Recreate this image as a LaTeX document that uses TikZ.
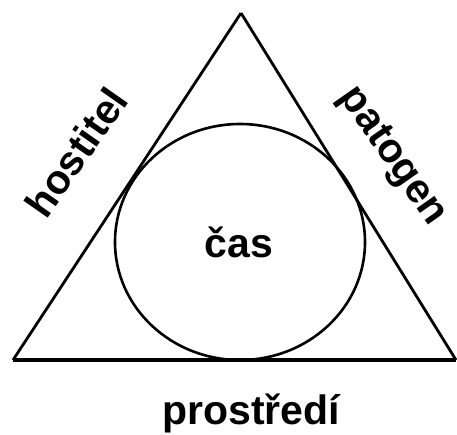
\documentclass[tikz,border=0pt]{standalone}
\usepackage{fontspec}
\setmainfont{Liberation Sans}
\usetikzlibrary{shapes.geometric}
\begin{document}
\begin{tikzpicture}[x=1pt,y=-1pt,
  lbl/.style={font=\fontsize{41}{42}\selectfont\bfseries, inner sep=0pt},
  edge/.style={line width=2.8pt, line join=round}]
\useasboundingbox (0,0) rectangle (457,434);
\coordinate (A) at (241,13);
\coordinate (B) at (13,360);
\coordinate (C) at (456,360);
\draw[edge] (A) -- (B);
\draw[edge] (A) -- (C);
\draw[line width=4pt] (B) -- (C);
\node[draw, line width=2.6pt, ellipse, minimum width=250pt, minimum height=236pt, inner sep=0pt] (circ) at (240,242) {};
\node[lbl] (cas) at (239,242) {čas};
\node[lbl, rotate=55] (host) at (76,152) {hostitel};
\node[lbl, rotate=-55] (pat) at (392,157) {patogen};
\node[lbl] (pros) at (251,413) {prostředí};
\end{tikzpicture}
\end{document}
